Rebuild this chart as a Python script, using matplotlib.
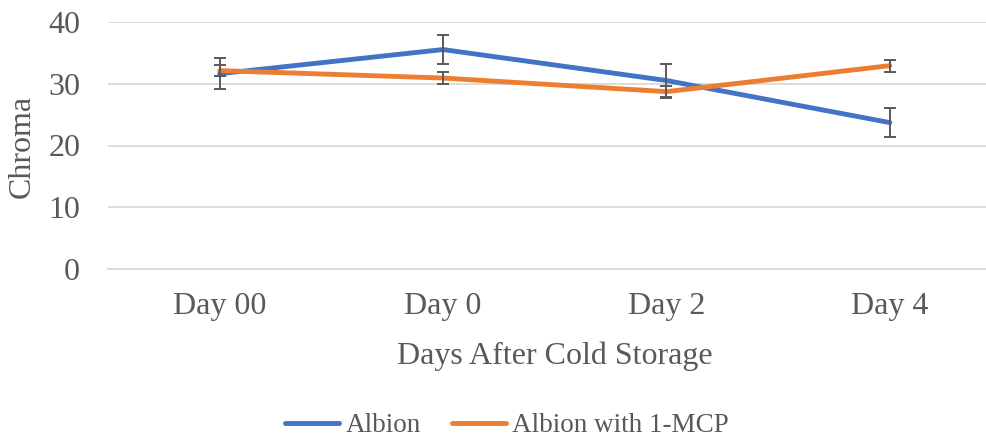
import matplotlib.pyplot as plt
import numpy as np

days = ['Day 00', 'Day 0', 'Day 2', 'Day 4']
albion = [31.6, 35.5, 30.5, 23.7]
albion_err = [2.5, 2.4, 2.7, 2.4]
albion_mcp = [32.1, 30.9, 28.7, 32.9]
albion_mcp_err = [0.95, 0.9, 0.95, 0.95]

plt.rcParams['font.family'] = ['Liberation Serif', 'DejaVu Serif']
txt = '#595959'

fig = plt.figure(figsize=(9.86, 4.41), dpi=100)
W, H = 986, 441
left, right = 108, 1001.5
top, bottom = 21.7, 269.3
ax = fig.add_axes([left / W, (H - bottom) / H, (right - left) / W, (bottom - top) / H])

x = np.arange(len(days))
ax.plot(x, albion, color='#4472C4', lw=3.5, solid_capstyle='round', label='Albion', zorder=3)
ax.plot(x, albion_mcp, color='#ED7D31', lw=3.5, solid_capstyle='round', label='Albion with 1-MCP', zorder=4)
ax.errorbar(x, albion, yerr=albion_err, fmt='none', ecolor='#595959', elinewidth=1.4,
            capsize=4.6, capthick=1.4, zorder=5)
ax.errorbar(x, albion_mcp, yerr=albion_mcp_err, fmt='none', ecolor='#595959', elinewidth=1.4,
            capsize=4.6, capthick=1.4, zorder=5)

ax.set_xlim(-0.5, 3.5)
ax.set_ylim(0, 40)
ax.set_yticks([0, 10, 20, 30, 40])
ax.set_xticks(x)
ax.set_xticklabels(days)
ax.yaxis.grid(True, color='#D9D9D9', lw=1.3)
ax.set_axisbelow(True)
for s in ax.spines.values():
    s.set_visible(False)
ax.spines['bottom'].set_visible(True)
ax.spines['bottom'].set_color('#D9D9D9')
ax.spines['bottom'].set_linewidth(1.3)
ax.tick_params(axis='both', length=0, labelsize=23, colors=txt)
ax.tick_params(axis='y', pad=20)
ax.tick_params(axis='x', pad=16)

fig.text(22 / W, 1 - 146 / H, 'Chroma', rotation=90, ha='center', va='center', fontsize=23, color=txt)
fig.text(555 / W, 1 - 356 / H, 'Days After Cold Storage', ha='center', va='center', fontsize=23, color=txt)

fig.legend(loc='center', bbox_to_anchor=(507 / W, 1 - 426 / H), ncol=2, frameon=False,
           fontsize=19.5, handlelength=2.0, handletextpad=0.22, columnspacing=1.15,
           labelcolor=txt)

fig.savefig('out.png', dpi=100)
